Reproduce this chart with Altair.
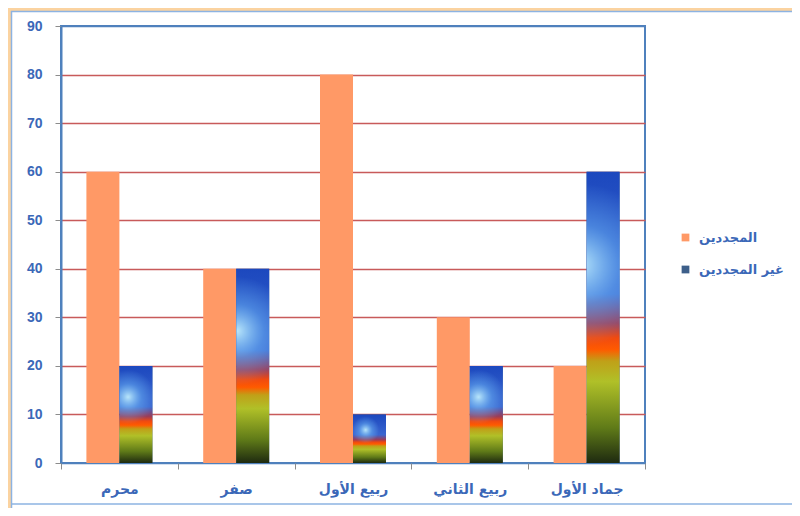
import altair as alt
import pandas as pd

months = ["محرم", "صفر", "ربيع الأول", "ربيع الثاني", "جماد الأول"]
series_names = ["المجددين", "غير المجددين"]
renewed = [60, 40, 80, 30, 20]
not_renewed = [20, 40, 10, 20, 60]
y_ticks = [0, 10, 20, 30, 40, 50, 60, 70, 80, 90]

rows = []
for m, a, b in zip(months, renewed, not_renewed):
    rows.append({"month": m, "series": series_names[0], "value": a})
    rows.append({"month": m, "series": series_names[1], "value": b})
df = pd.DataFrame(rows)

W, H = 584, 437
BLUE = "#4F81BD"
LBL = "#3B68B8"

x_enc = alt.X("month:N", sort=months,
              scale=alt.Scale(domain=months, paddingInner=0, paddingOuter=0),
              axis=alt.Axis(title=None, labelFont="DejaVu Sans", labelFontWeight="bold",
                            labelFontSize=14, labelColor=LBL, labelPadding=13,
                            tickBand="extent", tickColor="#8C8C8C", tickSize=6,
                            domain=False, grid=False, labelAngle=0))
y_enc = alt.Y("value:Q",
              scale=alt.Scale(domain=[0, 90], nice=False),
              axis=alt.Axis(title=None, values=y_ticks, labelFont="Liberation Sans",
                            labelFontWeight="bold", labelFontSize=14, labelColor=LBL,
                            labelPadding=13, tickColor="#8C8C8C", tickSize=6,
                            domainColor=BLUE, domainWidth=2,
                            gridColor={"condition": {"test": "datum.value == 90 || datum.value == 0",
                                                     "value": BLUE},
                                       "value": "#C85A5A"},
                            gridWidth=1.5))
xo = alt.XOffset("series:N", scale=alt.Scale(domain=series_names, paddingInner=0,
                                             paddingOuter=0.77))

base = alt.Chart(df).mark_bar().encode(
    x=x_enc, y=y_enc, xOffset=xo,
    color=alt.Color("series:N",
                    scale=alt.Scale(domain=series_names, range=["#FF9966", "#3D5F8A"]),
                    legend=alt.Legend(title=None, orient="none", legendX=618, legendY=205,
                                      symbolType="square", symbolSize=60, symbolStrokeWidth=0,
                                      labelFont="DejaVu Sans", labelFontWeight="bold",
                                      labelFontSize=13, labelColor=LBL, rowPadding=18,
                                      labelOffset=7))
)

tex_grad = alt.LinearGradient(
    gradient="linear", x1=0, y1=1, x2=0, y2=0,
    stops=[
        alt.GradientStop(offset=0.0, color="#1E2A10"),
        alt.GradientStop(offset=0.12, color="#5F7A18"),
        alt.GradientStop(offset=0.28, color="#B0C028"),
        alt.GradientStop(offset=0.35, color="#C0A018"),
        alt.GradientStop(offset=0.39, color="#FF5A00"),
        alt.GradientStop(offset=0.43, color="#F04A10"),
        alt.GradientStop(offset=0.48, color="#9A3C58"),
        alt.GradientStop(offset=0.58, color="#3A66D0"),
        alt.GradientStop(offset=1.0, color="#1C48BE"),
    ])
tex = alt.Chart(df).transform_filter(
    alt.datum.series == series_names[1]
).mark_bar(fill=tex_grad).encode(x=x_enc, y=y_enc, xOffset=xo)

glow_grad = alt.RadialGradient(
    gradient="radial", x1=0.42, y1=0.32, r1=0, x2=0.42, y2=0.32, r2=0.28,
    stops=[
        alt.GradientStop(offset=0.0, color="rgba(200,245,255,0.9)"),
        alt.GradientStop(offset=0.5, color="rgba(120,200,255,0.4)"),
        alt.GradientStop(offset=1.0, color="rgba(120,200,255,0)"),
    ])
glow = alt.Chart(df).transform_filter(
    alt.datum.series == series_names[1]
).mark_bar(fill=glow_grad).encode(x=x_enc, y=y_enc, xOffset=xo)

one = pd.DataFrame({"a": [0]})
peach_top = alt.Chart(one).mark_rect(fill="#FBD3A0").encode(
    x=alt.value(-53), x2=alt.value(800), y=alt.value(-18), y2=alt.value(-15))
peach_left = alt.Chart(one).mark_rect(fill="#FBD3A0").encode(
    x=alt.value(-53), x2=alt.value(-50), y=alt.value(-18), y2=alt.value(500))
frame_top = alt.Chart(one).mark_rule(color="#8DB3E2", strokeWidth=1.5).encode(
    x=alt.value(-50), x2=alt.value(800), y=alt.value(-14.5))
frame_left = alt.Chart(one).mark_rule(color="#8DB3E2", strokeWidth=1.5).encode(
    x=alt.value(-49.5), y=alt.value(-15), y2=alt.value(500))
frame_bot = alt.Chart(one).mark_rule(color="#8DB3E2", strokeWidth=1.5).encode(
    x=alt.value(-50), x2=alt.value(800), y=alt.value(478))

chart = alt.layer(peach_top, peach_left, frame_top, frame_left, frame_bot,
                  base, tex, glow).properties(
    width=W, height=H,
    autosize=alt.AutoSizeParams(type="none"),
    padding={"left": 53, "top": 18, "right": 147, "bottom": 45},
    background="white",
).configure_view(stroke=BLUE, strokeWidth=2)

chart.save("out.html", embed_options={"renderer": "svg", "actions": False})
